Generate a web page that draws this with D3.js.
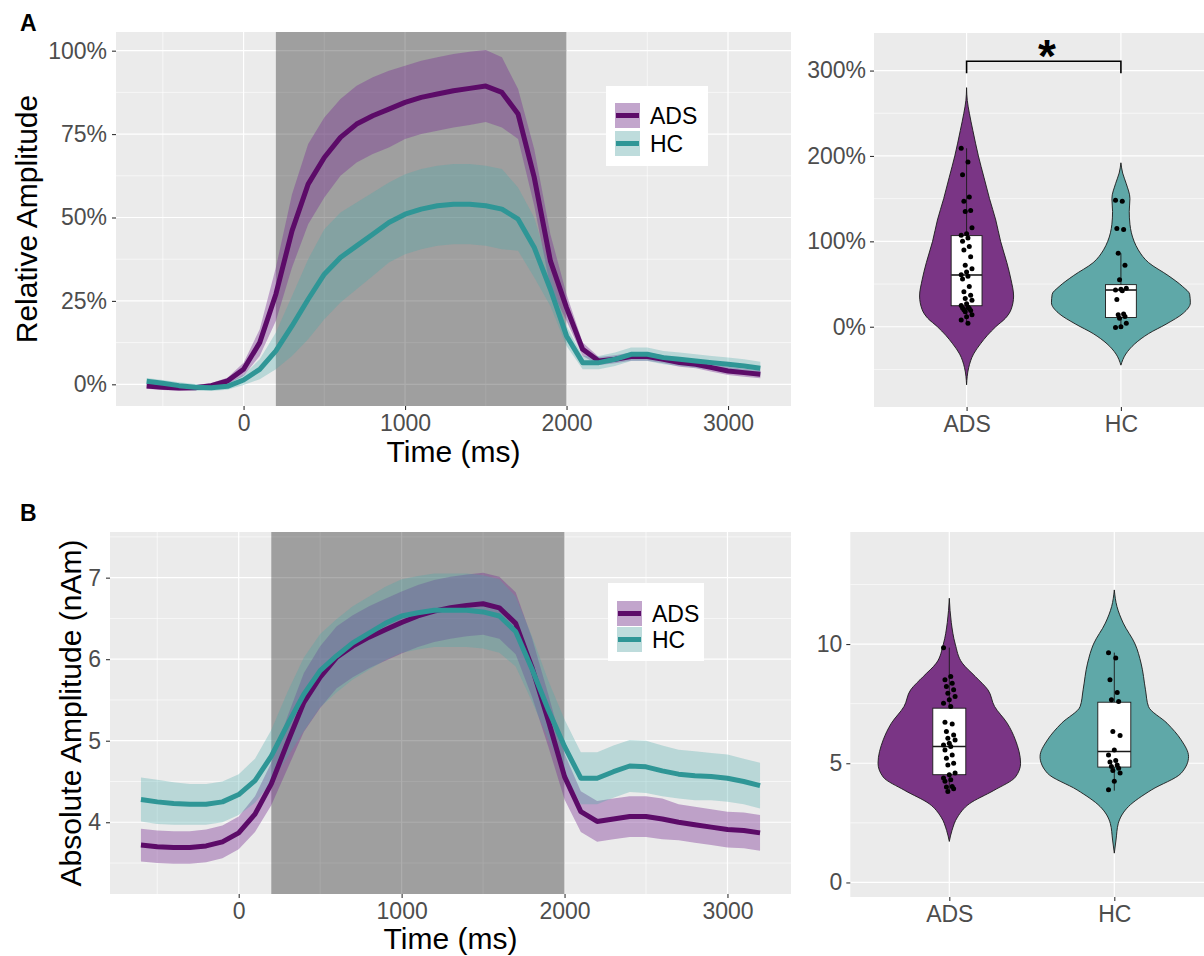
<!DOCTYPE html>
<html>
<head>
<meta charset="utf-8">
<script src="https://cdn.jsdelivr.net/npm/d3@7"></script>
<style>
body { margin: 0; background: #fff; }
text { font-family: "Liberation Sans", Arial, sans-serif; }
</style>
</head>
<body>
<script>
// time points (ms)
var time = [-600,-500,-400,-300,-200,-100,0,100,200,300,400,500,600,700,800,900,
  1000,1100,1200,1300,1400,1500,1600,1700,1800,1900,2000,2100,2200,2300,2400,2500,
  2600,2700,2800,2900,3000,3100,3200];

// panel A: relative amplitude (%)
var adsRelMean = [-0.5,-0.9,-1.1,-1.0,-0.4,1.0, 4.5,12.5,27,46,60,68,74,78,80.5,82.5,
  84.5,86,87,88,88.7,89.4,87.5,81,62,37, 23,10.5,7,7.5,8.3,8.3,7.5,6.5,6,5, 4,3.5,3];
var adsRelSe = [0.8,0.8,0.8,0.8,0.8,1, 2,4,8,11,12,12,11.5,11.5,11.5,11.5,
  11,11,11,11,11,10.8,10.5,7.5,8.5,8, 4,2,1.2,1.2,1.2,1.2,1.2,1.2,1.2,1.2, 1.2,1.2,1.2];
var hcRelMean = [0.9,0.3,-0.4,-0.9,-1.0,-0.6, 1.3,4.5,10,17.5,25.5,33,38,41.5,45,48.5,
  51,52.5,53.5,54,54,53.5,52.5,49.5,41,28.5, 14.5,6.5,6.5,7.5,9,9,8,7.5,7,6.5, 6,5.5,4.8];
var hcRelSe = [1,1,1,1,1,1, 1.5,3,5.5,9,12,13.5,13.5,13,12.5,12,
  12,12,12,12,12,12,12,9.5,9,5, 3,2,2,2,2,2,2,2,2,2, 2,2,2];

// panel B: absolute amplitude (nAm)
var adsAbsMean = [3.72,3.70,3.69,3.69,3.71,3.76, 3.87,4.1,4.47,4.98,5.47,5.78,6.02,6.16,6.27,6.36,
  6.45,6.53,6.59,6.63,6.66,6.68,6.63,6.44,5.9,5.25, 4.56,4.13,4.01,4.04,4.07,4.07,4.04,4.0,3.97,3.94, 3.91,3.9,3.87];
var adsAbsSe = [0.2,0.2,0.2,0.2,0.2,0.2, 0.2,0.22,0.26,0.32,0.36,0.38,0.38,0.38,0.38,0.38,
  0.38,0.38,0.38,0.38,0.38,0.38,0.38,0.38,0.36,0.32, 0.28,0.25,0.25,0.25,0.25,0.25,0.25,0.22,0.22,0.22, 0.22,0.22,0.22];
var hcAbsMean = [4.28,4.25,4.23,4.22,4.22,4.25, 4.34,4.51,4.81,5.2,5.57,5.86,6.04,6.2,6.32,6.44,
  6.53,6.57,6.6,6.6,6.6,6.58,6.53,6.34,5.88,5.38, 4.93,4.54,4.54,4.62,4.69,4.68,4.63,4.59,4.57,4.56, 4.54,4.5,4.45];
var hcAbsSe = [0.27,0.27,0.26,0.25,0.25,0.25, 0.25,0.27,0.32,0.4,0.45,0.45,0.45,0.45,0.45,0.45,
  0.45,0.45,0.45,0.45,0.45,0.45,0.45,0.43,0.4,0.36, 0.33,0.32,0.32,0.32,0.32,0.32,0.31,0.3,0.3,0.29, 0.29,0.28,0.28];

var groups = ["ADS", "HC"];
var stimulus = [200, 2000];

// subject values shown as points
var adsRelPts = [209,193,178,152,147,136,135,116,109,107,104,100,94,90,82,72,68,64,61,59,56,47,41,37,33,31,27,25,23,22,21.5,20,19,17.6,14,11.7,8,4];
var hcRelPts = [148,147,115,114,86,72,55,45,44,43,42,32,15,14,12,10,4,0,-1];
var adsAbsPts = [9.85,8.64,8.5,8.36,8.22,8.08,7.94,7.8,7.66,7.52,7.38,6.72,6.65,6.33,6.19,6.05,5.98,5.84,5.77,5.70,5.56,5.35,5.21,5.0,4.93,4.59,4.52,4.38,4.31,4.24,4.03,4.0,3.93,3.82];
var hcAbsPts = [9.64,9.41,8.5,7.97,7.66,7.59,6.33,6.16,5.56,5.35,5.12,5.05,4.93,4.86,4.79,4.70,4.59,4.24,3.89];

// box stats: [lower whisker, q1, median, q3, upper whisker]
var adsRelBox = [4, 24.6, 60.6, 106.7, 209];
var hcRelBox = [-1, 10.8, 43, 49.3, 86];
var adsAbsBox = [3.82, 4.52, 5.70, 7.31, 9.85];
var hcAbsBox = [3.85, 4.84, 5.49, 7.56, 9.64];

// violin density profiles: [value, relative density]
var adsRelViolin = [[280,0],[265,0.01],[250,0.04],[230,0.09],[200,0.17],[175,0.25],[150,0.33],[125,0.42],[100,0.49],[75,0.58],[55,0.64],[36,0.677],[20,0.64],[10,0.56],[0,0.42],[-10,0.3],[-20,0.2],[-32,0.1],[-48,0.03],[-68,0]];
var hcRelViolin = [[192,0],[180,0.025],[168,0.075],[150,0.13],[135,0.12],[120,0.13],[100,0.19],[90,0.25],[75,0.4],[60,0.68],[47,0.89],[38,0.99],[28,1.0],[16,0.9],[3,0.65],[-8,0.4],[-20,0.2],[-32,0.07],[-45,0]];
var adsAbsViolin = [[11.92,0],[10.9,0.027],[10,0.08],[9.2,0.175],[8.64,0.35],[8.08,0.52],[7.38,0.61],[6.68,0.78],[5.98,0.89],[5.0,0.96],[4.42,0.89],[3.86,0.6],[3.3,0.27],[2.74,0.11],[2.18,0.036],[1.72,0]];
var hcAbsViolin = [[12.27,0],[11.57,0.036],[10.88,0.12],[10,0.28],[9.2,0.36],[8.08,0.42],[7.38,0.46],[6.68,0.71],[5.98,0.9],[5.28,1.0],[4.58,0.9],[3.88,0.5],[3.18,0.19],[2.48,0.054],[1.78,0.023],[1.23,0]];

var lineColor = { ADS: "#5c0b68", HC: "#2f9696" };
var ribbonColor = { ADS: "#7b3294", HC: "#44aaaa" };
var ribbonAlpha = { ADS: 0.4, HC: 0.3 };
var violinColor = { ADS: "#7a3585", HC: "#5fa8a8" };

var svg = d3.select("body").append("svg")
  .attr("width", 1204)
  .attr("height", 956);

svg.append("rect").attr("width", 1204).attr("height", 956).attr("fill", "#fff");

function styleAxis(g) {
  g.select(".domain").remove();
  g.attr("font-family", null).attr("font-size", null);
  g.selectAll(".tick line").attr("stroke", "#333").attr("stroke-width", 1.1);
  g.selectAll(".tick text").attr("fill", "#4d4d4d").style("font-size", "23px");
}

function grid(g, x, y, xs, ys, w) {
  g.selectAll(null).data(xs).enter().append("line")
    .attr("x1", function(d) { return x(d); }).attr("x2", function(d) { return x(d); })
    .attr("y1", y.range()[0]).attr("y2", y.range()[1])
    .attr("stroke", "#fff").attr("stroke-width", w);
  g.selectAll(null).data(ys).enter().append("line")
    .attr("y1", function(d) { return y(d); }).attr("y2", function(d) { return y(d); })
    .attr("x1", x.range()[0]).attr("x2", x.range()[1])
    .attr("stroke", "#fff").attr("stroke-width", w);
}

function timePanel(p) {
  var x = d3.scaleLinear().domain([-790, 3390]).range([p.left, p.right]);
  var y = d3.scaleLinear().domain(p.yDomain).range([p.bottom, p.top]);
  var g = svg.append("g");

  g.append("rect")
    .attr("x", p.left).attr("y", p.top)
    .attr("width", p.right - p.left).attr("height", p.bottom - p.top)
    .attr("fill", "#ebebeb");
  grid(g, x, y, [-500, 500, 1500, 2500], p.yMinor, 0.6);
  grid(g, x, y, [0, 1000, 2000, 3000], p.yTicks, 1.2);

  // stimulus window
  g.append("rect")
    .attr("x", x(stimulus[0])).attr("y", p.top)
    .attr("width", x(stimulus[1]) - x(stimulus[0])).attr("height", p.bottom - p.top)
    .attr("fill", "#000").attr("fill-opacity", 0.32);

  p.series.forEach(function(s) {
    var area = d3.area()
      .x(function(d, i) { return x(time[i]); })
      .y0(function(d, i) { return y(d - s.se[i]); })
      .y1(function(d, i) { return y(d + s.se[i]); });
    g.append("path").datum(s.mean).attr("d", area)
      .attr("fill", ribbonColor[s.name]).attr("fill-opacity", ribbonAlpha[s.name]);
  });
  p.series.forEach(function(s) {
    var line = d3.line()
      .x(function(d, i) { return x(time[i]); })
      .y(function(d) { return y(d); });
    g.append("path").datum(s.mean).attr("d", line)
      .attr("fill", "none").attr("stroke", lineColor[s.name])
      .attr("stroke-width", 5).attr("stroke-linejoin", "round");
  });

  var ya = g.append("g").attr("transform", "translate(" + p.left + ",0)")
    .call(d3.axisLeft(y).tickValues(p.yTicks).tickFormat(p.yFormat).tickSize(4).tickPadding(5));
  styleAxis(ya);
  var xa = g.append("g").attr("transform", "translate(0," + p.bottom + ")")
    .call(d3.axisBottom(x).tickValues([0, 1000, 2000, 3000]).tickFormat(d3.format("d")).tickSize(4).tickPadding(5));
  styleAxis(xa);

  g.append("text")
    .attr("transform", "translate(" + p.yTitleX + "," + ((p.top + p.bottom) / 2) + ") rotate(-90)")
    .attr("text-anchor", "middle").style("font-size", "30px").attr("fill", "#000")
    .text(p.yTitle);
  g.append("text")
    .attr("x", (p.left + p.right) / 2).attr("y", p.xTitleY)
    .attr("text-anchor", "middle").style("font-size", "30px").attr("fill", "#000")
    .text("Time (ms)");

  // legend
  var L = p.legend;
  var lg = g.append("g").attr("transform", "translate(" + L.x + "," + L.y + ")");
  lg.append("rect").attr("width", L.w).attr("height", L.h).attr("fill", "#fff");
  p.series.forEach(function(s, i) {
    var ky = L.keyTop + i * L.keyStep;
    lg.append("rect").attr("x", 9).attr("y", ky).attr("width", 25).attr("height", 25).attr("fill", "#f2f2f2");
    lg.append("rect").attr("x", 9).attr("y", ky).attr("width", 25).attr("height", 25)
      .attr("fill", ribbonColor[s.name]).attr("fill-opacity", ribbonAlpha[s.name]);
    lg.append("line").attr("x1", 10).attr("x2", 33).attr("y1", ky + 12.5).attr("y2", ky + 12.5)
      .attr("stroke", lineColor[s.name]).attr("stroke-width", 5);
    lg.append("text").attr("x", 44).attr("y", ky + 12.5).attr("dy", "0.35em")
      .style("font-size", "23px").attr("fill", "#000").text(s.name);
  });
}

function violinPanel(p) {
  var x = d3.scaleLinear().domain([0.4, 2.6]).range([p.left, p.right]);
  var y = d3.scaleLinear().domain(p.yDomain).range([p.bottom, p.top]);
  var g = svg.append("g");

  g.append("rect")
    .attr("x", p.left).attr("y", p.top)
    .attr("width", p.right - p.left).attr("height", p.bottom - p.top)
    .attr("fill", "#ebebeb");
  grid(g, x, y, [], p.yMinor, 0.6);
  grid(g, x, y, [1, 2], p.yTicks, 1.2);

  p.groups.forEach(function(s, i) {
    var pos = i + 1;
    var area = d3.area()
      .y(function(d) { return y(d[0]); })
      .x0(function(d) { return x(pos - 0.45 * d[1]); })
      .x1(function(d) { return x(pos + 0.45 * d[1]); })
      .curve(d3.curveMonotoneY);
    g.append("path").datum(s.violin).attr("d", area)
      .attr("fill", violinColor[s.name]).attr("stroke", "#1a1a1a").attr("stroke-width", 0.9);

    var b = s.box;
    g.append("line").attr("x1", x(pos)).attr("x2", x(pos))
      .attr("y1", y(b[4])).attr("y2", y(b[3])).attr("stroke", "#1a1a1a").attr("stroke-width", 0.9);
    g.append("line").attr("x1", x(pos)).attr("x2", x(pos))
      .attr("y1", y(b[1])).attr("y2", y(b[0])).attr("stroke", "#1a1a1a").attr("stroke-width", 0.9);
    g.append("rect")
      .attr("x", x(pos - 0.1)).attr("width", x(pos + 0.1) - x(pos - 0.1))
      .attr("y", y(b[3])).attr("height", y(b[1]) - y(b[3]))
      .attr("fill", "#fff").attr("stroke", "#1a1a1a").attr("stroke-width", 0.9);
    g.append("line").attr("x1", x(pos - 0.1)).attr("x2", x(pos + 0.1))
      .attr("y1", y(b[2])).attr("y2", y(b[2])).attr("stroke", "#1a1a1a").attr("stroke-width", 1.6);

    // small fixed jitter pattern
    g.selectAll(null).data(s.pts).enter().append("circle")
      .attr("cx", function(d, j) { return x(pos + (((j * 5) % 9) - 4) / 4 * 0.035); })
      .attr("cy", function(d) { return y(d); })
      .attr("r", 2.5).attr("fill", "#000");
  });

  if (p.sig) {
    g.append("path")
      .attr("d", "M" + x(1) + "," + y(p.sig[0]) + "V" + y(p.sig[1]) + "H" + x(2) + "V" + y(p.sig[0]))
      .attr("fill", "none").attr("stroke", "#000").attr("stroke-width", 1.6);
    g.append("text").attr("x", x(1.52)).attr("y", y(p.sig[1]) + 11)
      .attr("text-anchor", "middle").style("font-size", "46px").style("font-weight", "bold")
      .text("*");
  }

  var ya = g.append("g").attr("transform", "translate(" + p.left + ",0)")
    .call(d3.axisLeft(y).tickValues(p.yTicks).tickFormat(p.yFormat).tickSize(4).tickPadding(4));
  styleAxis(ya);
  var xa = g.append("g").attr("transform", "translate(0," + p.bottom + ")")
    .call(d3.axisBottom(x).tickValues([1, 2]).tickFormat(function(d) { return groups[d - 1]; }).tickSize(4).tickPadding(5));
  styleAxis(xa);
}

var pct = function(d) { return d + "%"; };

timePanel({
  left: 116, right: 791, top: 32, bottom: 406,
  yDomain: [-6.5, 105.6], yTicks: [0, 25, 50, 75, 100], yMinor: [12.5, 37.5, 62.5, 87.5],
  yFormat: pct, yTitle: "Relative Amplitude", yTitleX: 37, xTitleY: 462,
  series: [{ name: "ADS", mean: adsRelMean, se: adsRelSe }, { name: "HC", mean: hcRelMean, se: hcRelSe }],
  legend: { x: 606, y: 86, w: 102, h: 80, keyTop: 17, keyStep: 28 }
});

timePanel({
  left: 110, right: 791, top: 532, bottom: 894,
  yDomain: [3.12, 7.56], yTicks: [4, 5, 6, 7], yMinor: [3.5, 4.5, 5.5, 6.5, 7.5],
  yFormat: d3.format("d"), yTitle: "Absolute Amplitude (nAm)", yTitleX: 81, xTitleY: 949,
  series: [{ name: "ADS", mean: adsAbsMean, se: adsAbsSe }, { name: "HC", mean: hcAbsMean, se: hcAbsSe }],
  legend: { x: 608, y: 583, w: 96, h: 78, keyTop: 18, keyStep: 26 }
});

violinPanel({
  left: 874, right: 1213.5, top: 33, bottom: 407,
  yDomain: [-94, 344], yTicks: [0, 100, 200, 300], yMinor: [-50, 50, 150, 250],
  yFormat: pct, sig: [297, 311],
  groups: [
    { name: "ADS", violin: adsRelViolin, box: adsRelBox, pts: adsRelPts },
    { name: "HC", violin: hcRelViolin, box: hcRelBox, pts: hcRelPts }
  ]
});

violinPanel({
  left: 850.3, right: 1213.3, top: 532, bottom: 897,
  yDomain: [-0.61, 14.7], yTicks: [0, 5, 10], yMinor: [2.5, 7.5, 12.5],
  yFormat: d3.format("d"),
  groups: [
    { name: "ADS", violin: adsAbsViolin, box: adsAbsBox, pts: adsAbsPts },
    { name: "HC", violin: hcAbsViolin, box: hcAbsBox, pts: hcAbsPts }
  ]
});

svg.append("text").attr("x", 20).attr("y", 31).style("font-size", "23px").style("font-weight", "bold").text("A");
svg.append("text").attr("x", 20).attr("y", 521).style("font-size", "23px").style("font-weight", "bold").text("B");
</script>
</body>
</html>
